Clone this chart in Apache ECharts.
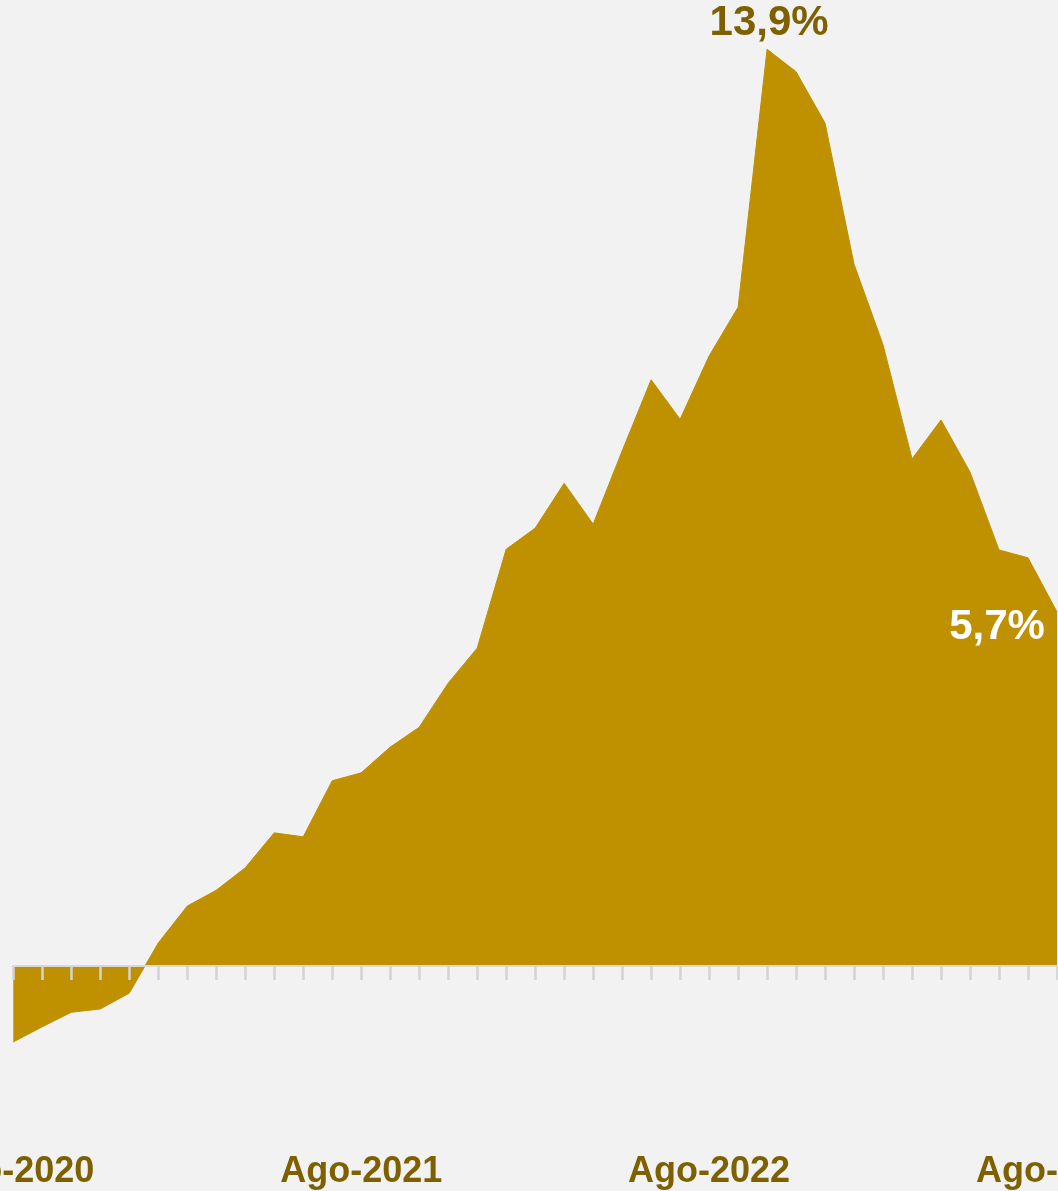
<!DOCTYPE html>
<html>
<head>
<meta charset="utf-8">
<script src="https://cdn.jsdelivr.net/npm/echarts@6/dist/echarts.min.js"></script>
<style>
  html, body { margin: 0; padding: 0; background: #f2f2f2; }
  #main { width: 1058px; height: 1191px; }
</style>
</head>
<body>
<div id="main"></div>
<script>
// meses ago-2020 .. ago-2023
var months = ['Ago-2020', 'Sep-2020', 'Oct-2020', 'Nov-2020', 'Dic-2020',
  'Ene-2021', 'Feb-2021', 'Mar-2021', 'Abr-2021', 'May-2021', 'Jun-2021', 'Jul-2021',
  'Ago-2021', 'Sep-2021', 'Oct-2021', 'Nov-2021', 'Dic-2021',
  'Ene-2022', 'Feb-2022', 'Mar-2022', 'Abr-2022', 'May-2022', 'Jun-2022', 'Jul-2022',
  'Ago-2022', 'Sep-2022', 'Oct-2022', 'Nov-2022', 'Dic-2022',
  'Ene-2023', 'Feb-2023', 'Mar-2023', 'Abr-2023', 'May-2023', 'Jun-2023', 'Jul-2023',
  'Ago-2023']
var values = [-1.15, -0.92, -0.70, -0.65, -0.41, 0.35, 0.91, 1.15, 1.49, 2.02, 1.96, 2.81,
  2.93, 3.32, 3.62, 4.29, 4.82, 6.32, 6.64, 7.32, 6.70, 7.81, 8.89, 8.29,
  9.25, 9.99, 13.9, 13.56, 12.78, 10.64, 9.42, 7.69, 8.28, 7.49, 6.31, 6.19,
  5.37]
var labelIdx = [26, 36]
var labelTxt = ['13,9%', '5,7%']

const myCharts = echarts.init(document.getElementById('main'))
var font = 'Liberation Sans'

var data = values.map(function (v, i) {
  var k = labelIdx.indexOf(i)
  if (k < 0) return v
  var last = i === values.length - 1
  return {
    value: v,
    symbol: 'circle',
    symbolSize: 1,
    itemStyle: { color: 'rgba(0,0,0,0)' },
    label: {
      show: true,
      formatter: labelTxt[k],
      position: last ? 'inside' : 'top',
      offset: last ? [-60, 16] : [2, 0],
      distance: 4,
      color: last ? '#ffffff' : '#7f6000',
      fontFamily: font,
      fontWeight: 'bold',
      fontSize: 42
    }
  }
})

const option = {
  backgroundColor: '#f2f2f2',
  animation: false,
  grid: {
    left: 13.3,
    right: 1,
    top: 42.7,
    bottom: 93,
    containLabel: false,
    outerBoundsMode: 'none'
  },
  xAxis: [
    {
      type: 'category',
      data: months,
      boundaryGap: false,
      z: 5,
      axisLine: { onZero: true, lineStyle: { color: '#d9d9d9', width: 2 } },
      axisTick: { show: true, interval: 0, length: 14, lineStyle: { color: '#d4d4d4', width: 2.5 } },
      axisLabel: { show: false },
      splitLine: { show: false }
    },
    {
      type: 'category',
      data: months,
      boundaryGap: false,
      position: 'bottom',
      axisLine: { show: false, onZero: false },
      axisTick: { show: false },
      axisLabel: {
        interval: 11,
        margin: 56,
        color: '#7f6000',
        fontFamily: font,
        fontWeight: 'bold',
        fontSize: 36
      },
      splitLine: { show: false }
    }
  ],
  yAxis: {
    type: 'value',
    min: -2,
    max: 14,
    show: false,
    splitLine: { show: false }
  },
  series: [
    {
      type: 'line',
      xAxisIndex: 0,
      data: data,
      symbol: 'none',
      lineStyle: { color: '#bf9000', width: 1 },
      areaStyle: { color: '#bf9000', opacity: 1 },
      itemStyle: { color: '#bf9000' }
    }
  ]
}
myCharts.setOption(option)
</script>
</body>
</html>
